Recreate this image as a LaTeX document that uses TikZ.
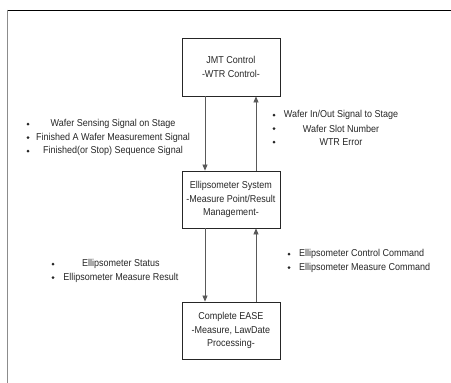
\documentclass[tikz,border=0pt]{standalone}
\usepackage{fontspec}
\setmainfont{Liberation Sans}[FakeStretch=0.9]
\usetikzlibrary{arrows.meta}

\tikzset{
  blk/.style={draw=black!85,line width=0.8pt,minimum width=98pt,align=center,
    font=\fontsize{10}{13.5}\selectfont,text=black!85,inner sep=2pt},
  sig/.style={draw=black!65,line width=0.7pt,-{Triangle[length=6pt,width=5pt]}},
  lbl/.style={font=\fontsize{10}{11}\selectfont,text=black!85,inner sep=0pt},
  dot/.style={fill=black!85}
}

\begin{document}
\begin{tikzpicture}[x=1pt,y=-1pt]
\useasboundingbox (0,0) rectangle (451,383);

% frame, cut off at the right and bottom
\draw[black,line width=0.8pt] (8,10) -- (451,10);
\draw[black!45,line width=1.6pt] (7.5,9.6) -- (7.5,383);

% blocks
\node[blk,minimum height=58pt] (jmt) at (231,67) {JMT Control\\-WTR Control-};
\node[blk,minimum height=57pt] (ellip) at (231,199.5) {Ellipsometer System\\-Measure Point/Result\\Management-};
\node[blk,minimum height=57pt] (ease) at (231,330.5) {Complete EASE\\-Measure, LawDate\\Processing-};

% connectors
\draw[sig] ([xshift=-26pt]jmt.south) -- ([xshift=-26pt]ellip.north);
\draw[sig] ([xshift=25pt]ellip.north) -- ([xshift=25pt]jmt.south);
\draw[sig] ([xshift=-26pt]ellip.south) -- ([xshift=-26pt]ease.north);
\draw[sig] ([xshift=25pt]ease.north) -- ([xshift=25pt]ellip.south);

%signals:
\foreach \t/\y in {{Wafer Sensing Signal on Stage}/124,{Finished A Wafer Measurement Signal}/137.5,{Finished(or Stop) Sequence Signal}/151}{
  \node[lbl] at (113,\y) {\t};
  \fill[dot] (28,\y) circle (1.5pt);
}
\foreach \t/\y in {{Wafer In/Out Signal to Stage}/115,{Wafer Slot Number}/128.5,{WTR Error}/142}{
  \node[lbl] at (341,\y) {\t};
  \fill[dot] (274,\y) circle (1.5pt);
}
\foreach \t/\y in {{Ellipsometer Status}/264,{Ellipsometer Measure Result}/277.5}{
  \node[lbl] at (121,\y) {\t};
  \fill[dot] (53,\y) circle (1.5pt);
}
\foreach \t/\y in {{Ellipsometer Control Command}/254,{Ellipsometer Measure Command}/267.5}{
  \node[lbl,anchor=west] at (299,\y) {\t};
  \fill[dot] (289,\y) circle (1.5pt);
}
\end{tikzpicture}
\end{document}
